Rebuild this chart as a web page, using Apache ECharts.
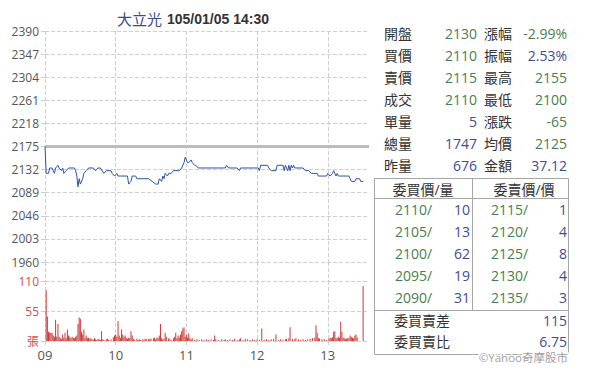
<!DOCTYPE html>
<html>
<head>
<meta charset="utf-8">
<script src="https://cdn.jsdelivr.net/npm/echarts@6/dist/echarts.min.js"></script>
<style>
html,body{margin:0;padding:0;background:#fff;}
#chart{width:589px;height:373px;}
</style>
</head>
<body>
<div id="chart"></div>
<script>
// ---------- data ----------
const hourLabels = ['09', '10', '11', '12', '13'];
const priceTickLabels = ['1960', '2003', '2046', '2089', '2132', '2175', '2218', '2261', '2304', '2347', '2390'];
const prevClose = 2175;
const volTickLabels = { 0: '張', 55: '55', 110: '110' };

const priceMinutes = [0,1,3,4,6,7,8,9,11,12,14,15,16,18,20,25,26,27,28,29,30,32,33,35,37,41,43,45,47,50,52,56,57,59,61,62,70,71,73,74,77,78,88,91,94,96,97,99,100,101,102,104,105,107,109,114,116,118,119,121,122,124,125,127,128,130,153,154,156,163,165,166,181,182,183,189,190,192,196,197,202,203,204,206,207,208,209,210,211,212,219,221,224,226,231,232,239,240,242,244,245,247,248,249,258,259,260,263,264,267,268,270];
const priceValues  = [2175,2125,2125,2135,2135,2130,2125,2135,2140,2135,2130,2135,2125,2130,2135,2135,2130,2120,2100,2115,2105,2115,2125,2130,2135,2135,2130,2135,2135,2125,2130,2130,2125,2120,2125,2120,2120,2105,2110,2120,2120,2115,2115,2110,2105,2105,2115,2110,2120,2115,2125,2120,2125,2125,2130,2130,2135,2145,2155,2145,2145,2150,2145,2140,2140,2135,2135,2140,2135,2135,2130,2135,2135,2130,2140,2140,2135,2130,2130,2140,2140,2130,2140,2130,2140,2130,2140,2135,2140,2135,2135,2130,2130,2125,2125,2120,2120,2125,2120,2125,2130,2120,2125,2120,2120,2115,2110,2110,2115,2115,2110,2110];

const volMinutes = [1,2,3,4,5,6,7,8,9,10,11,12,13,14,15,16,17,18,19,20,21,22,23,24,25,26,27,28,29,30,31,32,33,34,35,36,37,38,39,40,41,42,43,44,45,46,47,48,49,50,52,53,54,56,58,59,60,61,62,63,64,65,66,67,68,69,70,71,72,73,74,75,76,78,79,80,81,83,84,85,86,88,89,90,92,93,94,95,96,97,98,99,100,101,102,103,105,106,107,109,110,111,112,113,114,115,116,117,118,119,120,121,122,123,124,125,127,129,131,133,135,137,139,141,143,144,145,147,150,152,153,155,157,159,161,163,165,166,168,170,172,174,176,178,180,182,184,186,188,190,192,194,196,198,200,202,204,205,207,208,210,212,213,215,217,219,221,223,225,227,229,230,231,232,233,235,237,239,241,242,243,244,245,246,247,248,249,250,251,252,253,254,255,256,257,258,259,260,261,262,263,264,265,270];
const volValues  = [93,45,17,15,15,15,10,8,39,8,31,8,5,3,12,6,15,5,21,10,8,5,8,6,5,8,10,31,43,41,17,12,21,6,10,5,6,4,5,3,2,5,3,2,4,3,2,18,3,2,3,4,2,3,7,10,12,8,36,10,6,21,12,8,10,6,4,6,5,18,10,4,2,4,2,3,2,3,2,4,3,4,3,4,5,6,3,7,5,10,31,5,3,4,15,8,5,3,2,5,8,15,5,10,6,12,18,23,25,8,12,6,14,5,3,5,2,3,2,3,2,3,2,3,2,10,3,2,3,2,3,2,3,2,4,2,3,5,2,4,3,2,3,2,3,2,23,2,3,2,3,4,12,2,3,2,3,4,5,25,4,3,5,3,2,3,2,3,4,5,6,29,15,6,4,3,3,2,4,6,5,7,17,18,6,5,8,6,35,17,6,5,3,4,6,5,10,8,6,5,10,12,6,101];

const stockName = '大立光';
const stampText = '105/01/05 14:30';
const quoteLabelsL = ['開盤', '買價', '賣價', '成交', '單量', '總量', '昨量'];
const quoteValuesL = ['2130', '2110', '2115', '2110', '5', '1747', '676'];
const quoteKindsL  = ['g', 'g', 'g', 'g', 'b', 'b', 'b'];
const quoteLabelsR = ['漲幅', '振幅', '最高', '最低', '漲跌', '均價', '金額'];
const quoteValuesR = ['-2.99%', '2.53%', '2155', '2100', '-65', '2125', '37.12'];
const quoteKindsR  = ['g', 'b', 'g', 'g', 'g', 'g', 'b'];
const bookHeaders = ['委買價/量', '委賣價/價'];
const bidPrices = ['2110', '2105', '2100', '2095', '2090'];
const bidQty    = ['10', '13', '62', '19', '31'];
const askPrices = ['2115', '2120', '2125', '2130', '2135'];
const askQty    = ['1', '4', '8', '4', '3'];
const summaryLabels = ['委買賣差', '委買賣比'];
const summaryValues = ['115', '6.75'];
const copyright = '©Yahoo奇摩股市';

// ---------- chart ----------
const FONT = '"Open Sans", "Noto Sans CJK TC", sans-serif';
const GREEN = '#4b7d4b', BLUE = '#3e4c92', DARK = '#333', GRIDC = '#cfcfcf', RED = '#cc3838';
const nCats = 276;
const cats = [];
for (let i = 0; i < nCats; i++) cats.push(String(i));
const hourTick = (idx) => idx % 60 === 0;

const priceData = priceMinutes.map((m, i) => [m, priceValues[i]]);
const volData = volMinutes.map((m, i) => [m, volValues[i]]);

const graphics = [];
function txt(x, y, s, color, align, size) {
  graphics.push({
    type: 'text', x: x, y: y, silent: true,
    style: { text: s, fill: color, font: (size || 14) + 'px ' + FONT, textAlign: align || 'left', textVerticalAlign: 'middle' }
  });
}
function line(x1, y1, x2, y2) {
  graphics.push({ type: 'line', silent: true, shape: { x1: x1, y1: y1, x2: x2, y2: y2 }, style: { stroke: '#a6a6a6', lineWidth: 1 } });
}
const col = k => k === 'g' ? GREEN : BLUE;
for (let i = 0; i < quoteLabelsL.length; i++) {
  const y = 33 + i * 22;
  txt(384, y, quoteLabelsL[i], DARK, 'left');
  txt(477, y, quoteValuesL[i], col(quoteKindsL[i]), 'right');
  txt(484, y, quoteLabelsR[i], DARK, 'left');
  txt(567, y, quoteValuesR[i], col(quoteKindsR[i]), 'right');
}
// order book box
graphics.push({ type: 'rect', silent: true, shape: { x: 374.5, y: 178.5, width: 194, height: 176 }, style: { fill: 'none', stroke: '#a6a6a6', lineWidth: 1 } });
line(374.5, 198.5, 568.5, 198.5);
line(472.5, 178.5, 472.5, 310.5);
line(374.5, 310.5, 568.5, 310.5);
txt(423, 189, bookHeaders[0], DARK, 'center');
txt(524, 189, bookHeaders[1], DARK, 'center');
for (let i = 0; i < bidPrices.length; i++) {
  const y = 209.5 + i * 22;
  txt(395, y, bidPrices[i] + '/', GREEN, 'left');
  txt(470, y, bidQty[i], BLUE, 'right');
  txt(491, y, askPrices[i] + '/', GREEN, 'left');
  txt(567, y, askQty[i], BLUE, 'right');
}
for (let i = 0; i < summaryLabels.length; i++) {
  const y = 320 + i * 21;
  txt(394, y, summaryLabels[i], DARK, 'left');
  txt(567, y, summaryValues[i], BLUE, 'right');
}
graphics.push({
  type: 'text', x: 568, y: 357.5, silent: true, z: 10,
  style: { text: copyright, fill: '#a0a0a0', font: '11.5px ' + FONT, textAlign: 'right', textVerticalAlign: 'middle', stroke: '#fff', lineWidth: 3 }
});

const dashed = { color: GRIDC, type: 'dashed', width: 1 };
const chart = echarts.init(document.getElementById('chart'), null, { renderer: 'svg' });
chart.setOption({
  animation: false,
  backgroundColor: '#fff',
  title: {
    left: 112, top: 5,
    text: '{a|' + stockName + '} {b|' + stampText + '}',
    textStyle: {
      fontWeight: 'normal',
      rich: {
        a: { fontSize: 15, fontWeight: 'normal', color: '#3b4a8e', fontFamily: FONT },
        b: { fontSize: 14, fontWeight: 'bold', color: '#333', fontFamily: '"Liberation Sans", Arial, sans-serif' }
      }
    }
  },
  grid: [
    { left: 45, top: 31, width: 324, height: 231 },
    { left: 45, top: 281, width: 324, height: 60 }
  ],
  xAxis: [
    {
      gridIndex: 0, type: 'category', boundaryGap: false, data: cats,
      axisLine: { show: false },
      axisLabel: { show: false },
      axisTick: { show: true, interval: hourTick, length: 19, lineStyle: dashed },
      splitLine: { show: true, interval: hourTick, lineStyle: dashed }
    },
    {
      gridIndex: 1, type: 'category', boundaryGap: false, data: cats,
      axisLine: { show: false },
      axisLabel: {
        show: true, interval: hourTick, margin: 7,
        formatter: (v, idx) => hourLabels[Number(v) / 60] || '',
        color: '#555', fontSize: 13, fontFamily: FONT
      },
      axisTick: { show: true, interval: hourTick, length: 5, lineStyle: dashed },
      splitLine: { show: true, interval: hourTick, lineStyle: dashed }
    }
  ],
  yAxis: [
    { gridIndex: 0, type: 'value', position: 'left', min: 1960, max: 2390, show: false },
    {
      gridIndex: 0, type: 'value', position: 'left', min: 0, max: priceTickLabels.length - 1, interval: 1,
      axisLine: { show: false },
      axisTick: { show: true, length: 5, lineStyle: dashed },
      axisLabel: { formatter: v => priceTickLabels[v], color: '#555', fontSize: 12, margin: 6, fontFamily: FONT },
      splitLine: { show: true, lineStyle: dashed }
    },
    {
      gridIndex: 1, type: 'value', position: 'left', min: 0, max: 110, interval: 55,
      axisLine: { show: false },
      axisTick: { show: true, length: 5, lineStyle: dashed },
      axisLabel: { formatter: v => volTickLabels[v] || '', color: '#d05050', fontSize: 12, margin: 6, fontFamily: FONT },
      splitLine: { show: true, lineStyle: dashed }
    }
  ],
  series: [
    {
      type: 'line', xAxisIndex: 0, yAxisIndex: 0, data: priceData,
      showSymbol: false, symbol: 'none',
      lineStyle: { color: '#2f52a3', width: 1 },
      z: 5,
      markLine: {
        silent: true, symbol: 'none', label: { show: false },
        lineStyle: { color: '#bcbcbc', width: 3, type: 'solid' },
        data: [{ yAxis: prevClose }]
      }
    },
    {
      type: 'bar', xAxisIndex: 1, yAxisIndex: 2, data: volData,
      barWidth: 1, itemStyle: { color: RED }
    }
  ],
  graphic: graphics
});
</script>
</body>
</html>
